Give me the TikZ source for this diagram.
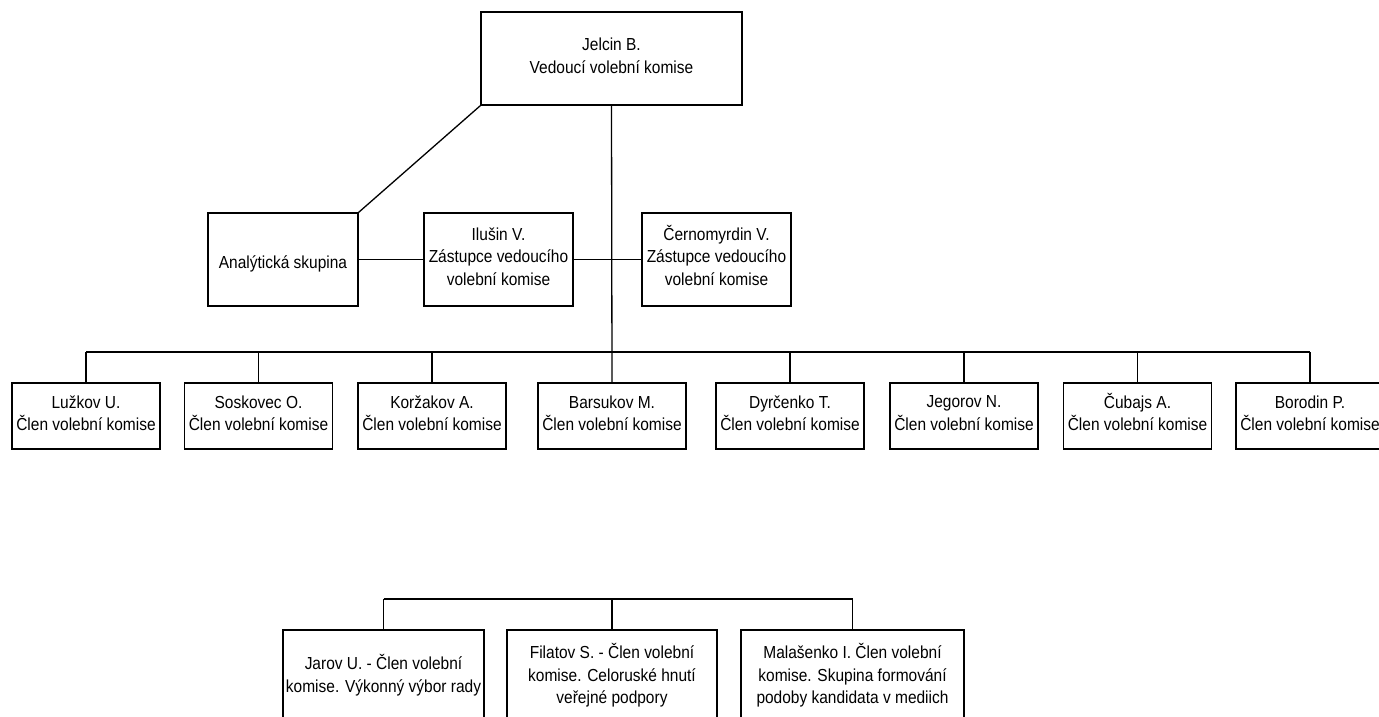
\documentclass[tikz,border=0pt]{standalone}
\usepackage{fontspec}
\setmainfont[FakeStretch=0.89]{Liberation Sans}
\begin{document}
\begin{tikzpicture}[x=1pt,y=-1pt,
  box/.style={draw, line width=1.3pt, rectangle, inner sep=0pt, align=center,
    font=\fontsize{17.4}{22.5}\selectfont,
    execute at begin node={\rule{0pt}{23pt}},
    execute at end node={\rule[-6pt]{0pt}{6pt}}},
  mid/.style={box, minimum width=150pt, minimum height=93pt},
  member/.style={box, minimum width=148pt, minimum height=66pt},
  low/.style={box, minimum height=93pt},
  conn/.style={line width=1.3pt}]
\useasboundingbox (0,0) rectangle (1379,717);
\fill[white] (0,0) rectangle (1379,717);
\clip (0,0) rectangle (1379,717);

\node[box, minimum width=261pt, minimum height=93pt] (top) at (611.5,58.5) {Jelcin B.\\Vedoucí volební komise};

\node[mid] (ana) at (283,259.5) {Analýtická skupina};
\node[mid, minimum width=149pt] (ilu) at (498.5,259.5) {Ilušin V.\\Zástupce vedoucího\\volební komise};
\node[mid, minimum width=149pt] (cer) at (716.5,259.5) {\smash{Č}ernomyrdin V.\\Zástupce vedoucího\\volební komise};

\node[member] (m1) at (86,416) {Lužkov U.\\Člen volební komise};
\node[member] (m2) at (258.5,416) {Soskovec O.\\Člen volební komise};
\node[member] (m3) at (432,416) {Koržakov A.\\Člen volební komise};
\node[member] (m4) at (612,416) {Barsukov M.\\Člen volební komise};
\node[member] (m5) at (790,416) {Dyrčenko T.\\Člen volební komise};
\node[member] (m6) at (964,416) {Jegorov N.\\Člen volební komise};
\node[member] (m7) at (1137.5,416) {\smash{Č}ubajs A.\\Člen volební komise};
\node[member] (m8) at (1310,416) {Borodin P.\\Člen volební komise};

\node[low, minimum width=201pt] (b1) at (383.5,676.5) {Jarov U. - Člen volební\\komise. Výkonný výbor rady};
\node[low, minimum width=210pt] (b2) at (612,676.5) {Filatov S. - Člen volební\\komise. Celoruské hnutí\\veřejné podpory};
\node[low, minimum width=223pt] (b3) at (852.5,676.5) {Malašenko I. Člen volební\\komise. Skupina formování\\podoby kandidata v mediich};

\coordinate (bus) at (0,352);
\coordinate (bus2) at (0,599);

\draw[conn] (top.south west) -- (ana.north east);
\draw[conn] (ana.east) -- (ilu.west);
\draw[conn] (ilu.east) -- (cer.west);
\draw[conn] (top.south) -- (m4.north);
\draw[conn] (m1.north |- bus) -- (m8.north |- bus);
\foreach \m in {m1,m2,m3,m5,m6,m7,m8}{
  \draw[conn] (\m.north) -- (\m.north |- bus);
}
\draw[conn] (b1.north |- bus2) -- (b3.north |- bus2);
\foreach \m in {b1,b2,b3}{
  \draw[conn] (\m.north) -- (\m.north |- bus2);
}
\end{tikzpicture}
\end{document}
